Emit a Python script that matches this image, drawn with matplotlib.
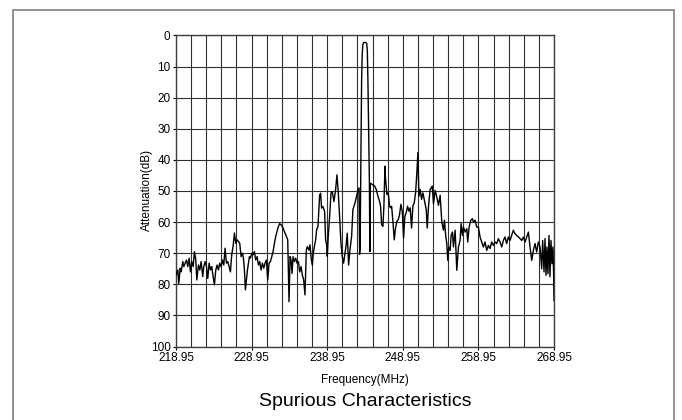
import matplotlib

matplotlib.use("Agg")
import matplotlib.pyplot as plt
from matplotlib.patches import Rectangle

plt.rcParams["font.family"] = ["Liberation Sans", "DejaVu Sans"]

# frequency (MHz) and attenuation (dB)
freq_mhz = [
    218.95, 219.19, 219.32, 219.50, 219.63, 219.85, 219.98, 220.16, 220.34, 220.51,
    220.69, 220.86, 221.04, 221.22, 221.39, 221.57, 221.70, 221.92, 222.10, 222.27,
    222.49, 222.62, 222.80, 222.98, 223.15, 223.33, 223.51, 223.68, 223.86, 224.03,
    224.21, 224.39, 224.56, 224.74, 224.91, 225.09, 225.27, 225.44, 225.62, 225.80,
    225.97, 226.15, 226.32, 226.50, 226.68, 226.85, 227.03, 227.20, 227.38, 227.56,
    227.74, 227.87, 228.00, 228.13, 228.27, 228.40, 228.53, 228.66, 228.80, 228.97,
    229.15, 229.32, 229.50, 229.68, 229.85, 230.03, 230.20, 230.38, 230.56, 230.73,
    230.91, 231.08, 231.26, 231.44, 231.61, 231.79, 231.97, 232.14, 232.32, 232.49,
    232.67, 232.85, 233.02, 233.20, 233.37, 233.55, 233.73, 233.90, 234.04, 234.17,
    234.30, 234.43, 234.61, 234.78, 234.96, 235.14, 235.31, 235.49, 235.66, 235.84,
    236.01, 236.19, 236.32, 236.54, 236.67, 236.85, 236.98, 237.11, 237.29, 237.42,
    237.55, 237.73, 237.95, 238.08, 238.21, 238.39, 238.61, 238.74, 238.87, 238.96,
    239.09, 239.27, 239.45, 239.62, 239.84, 240.06, 240.24, 240.42, 240.59, 240.77,
    240.94, 241.12, 241.25, 241.43, 241.60, 241.78, 241.96, 242.18, 242.35, 242.62,
    242.93, 243.15, 243.24, 243.30, 243.40, 243.50, 243.58, 243.66, 243.76, 243.98,
    244.18, 244.26, 244.34, 244.44, 244.53, 244.59, 244.66, 244.91, 245.22, 245.44,
    245.66, 245.88, 246.01, 246.15, 246.32, 246.45, 246.59, 246.67, 246.85, 247.03,
    247.20, 247.33, 247.47, 247.64, 247.82, 247.99, 248.17, 248.35, 248.52, 248.70,
    248.88, 249.05, 249.23, 249.40, 249.58, 249.76, 249.93, 250.11, 250.28, 250.46,
    250.64, 250.81, 250.95, 251.08, 251.25, 251.43, 251.61, 251.83, 252.05, 252.18,
    252.35, 252.57, 252.84, 253.01, 253.23, 253.45, 253.67, 253.89, 254.11, 254.33,
    254.46, 254.64, 254.77, 254.90, 255.03, 255.21, 255.34, 255.52, 255.65, 255.87,
    256.09, 256.31, 256.53, 256.66, 256.84, 256.97, 257.19, 257.41, 257.54, 257.72,
    257.94, 258.16, 258.29, 258.51, 258.73, 258.95, 259.17, 259.39, 259.61, 259.83,
    260.05, 260.27, 260.49, 260.71, 260.93, 261.15, 261.37, 261.59, 261.81, 262.03,
    262.25, 262.47, 262.69, 262.91, 263.13, 263.35, 263.57, 263.79, 264.02, 264.24,
    264.46, 264.68, 264.90, 265.12, 265.34, 265.56, 265.78, 266.00, 266.22, 266.44,
    266.66, 266.88, 267.10, 267.32, 267.45, 267.63, 267.76, 267.89, 268.02, 268.15,
    268.29, 268.42, 268.55, 268.68, 268.81, 268.90, 268.95,
]
atten_db = [
    77.0, 75.4, 79.7, 74.8, 76.0, 72.7, 74.3, 73.2, 72.2, 74.3,
    71.6, 76.0, 72.7, 74.3, 69.5, 72.2, 78.6, 73.8, 75.4, 72.7,
    77.5, 74.3, 72.7, 74.3, 78.1, 73.2, 75.4, 74.3, 77.5, 80.2,
    75.4, 73.8, 75.4, 73.2, 74.3, 72.2, 73.8, 68.4, 73.2, 72.7,
    74.3, 76.0, 70.5, 67.8, 63.5, 66.8, 65.7, 66.2, 66.8, 71.1,
    70.0, 71.6, 75.4, 81.8, 78.6, 75.4, 73.2, 71.1, 71.6, 70.0,
    70.5, 69.5, 72.2, 71.1, 73.8, 72.7, 75.4, 73.2, 74.8, 73.2,
    72.2, 78.6, 73.2, 72.7, 71.1, 69.5, 66.8, 64.6, 63.0, 61.4,
    60.5, 60.9, 61.4, 62.5, 63.5, 64.6, 65.7, 85.6, 71.1, 72.2,
    76.5, 71.1, 72.7, 71.6, 73.2, 72.7, 76.0, 74.3, 77.0, 78.6,
    83.4, 69.0, 67.9, 69.0, 67.3, 72.0, 73.8, 70.0, 67.3, 65.7,
    62.5, 61.4, 51.3, 50.7, 55.5, 55.0, 56.6, 65.7, 67.3, 71.0,
    64.6, 58.2, 50.7, 50.2, 53.4, 49.6, 44.8, 50.7, 58.2, 66.8,
    71.0, 73.2, 71.0, 67.9, 63.6, 73.8, 69.0, 64.6, 56.0, 53.9,
    50.7, 49.0, 70.4, 68.0, 40.0, 15.0, 6.0, 3.0, 2.3, 2.2,
    2.5, 5.0, 15.0, 32.0, 47.0, 69.5, 47.5, 47.9, 48.4, 49.5,
    51.7, 53.3, 54.9, 60.8, 61.4, 54.9, 42.0, 46.3, 51.1, 50.6,
    54.9, 55.4, 54.9, 59.7, 65.7, 61.9, 59.7, 59.2, 57.6, 54.3,
    56.5, 65.1, 58.1, 57.0, 54.9, 56.5, 55.4, 61.9, 54.9, 53.8,
    50.6, 44.1, 37.6, 51.7, 49.5, 52.7, 50.6, 53.3, 56.0, 61.9,
    54.9, 49.5, 48.4, 54.1, 49.8, 52.0, 54.6, 51.4, 60.0, 62.6,
    59.4, 64.8, 66.9, 72.3, 68.0, 69.1, 64.3, 63.2, 68.0, 62.6,
    75.5, 68.0, 65.9, 60.5, 64.3, 61.6, 63.2, 62.1, 66.4, 61.6,
    59.4, 58.9, 60.0, 59.4, 61.6, 61.6, 64.8, 66.4, 68.0, 66.4,
    69.1, 67.5, 68.5, 66.4, 67.5, 66.4, 66.9, 65.3, 66.4, 68.0,
    65.9, 64.8, 66.9, 64.8, 65.9, 64.3, 62.6, 63.7, 64.3, 64.8,
    65.3, 65.9, 64.8, 66.4, 64.8, 63.2, 68.0, 72.3, 69.1, 66.9,
    69.6, 66.4, 68.0, 75.0, 65.9, 76.0, 65.3, 77.1, 68.0, 76.6,
    64.3, 77.6, 65.9, 73.4, 68.0, 76.6, 85.2,
]

x_labels = [218.95, 228.95, 238.95, 248.95, 258.95, 268.95]
x_grid = [218.95 + 2 * i for i in range(26)]
y_ticks = [0, 10, 20, 30, 40, 50, 60, 70, 80, 90, 100]


def main() -> None:
    fig = plt.figure(figsize=(6.82, 4.20), dpi=100)
    fig.patch.set_facecolor("white")

    # grey outer frame, bottom edge runs off the canvas
    fig.patches.append(Rectangle((13 / 682, -0.02), 661 / 682, 1.0 - 10 / 420 + 0.02,
                                 transform=fig.transFigure, fill=False,
                                 edgecolor="#808080", linewidth=1.2))

    ax = fig.add_axes([176 / 682, 73.5 / 420, 378 / 682, 311 / 420])
    ax.plot(freq_mhz, atten_db, color="black", linewidth=1.0, zorder=3)

    ax.set_xlim(218.95, 268.95)
    ax.set_ylim(100, 0)
    ax.set_xticks(x_labels)
    ax.set_xticklabels([f"{v:.2f}" for v in x_labels])
    ax.set_xticks(x_grid, minor=True)
    ax.set_yticks(y_ticks)
    ax.grid(True, which="both", color="#303030", linewidth=0.8)
    ax.tick_params(axis="both", which="both", length=2, width=0.8, labelsize=8.5, pad=2)
    ax.tick_params(axis="x", which="minor", length=0)
    for side in ax.spines.values():
        side.set_color("#404040")
        side.set_linewidth(1.0)

    fig.text(147 / 682, 1 - 190 / 420, "Attenuation(dB)", rotation=90,
             ha="center", va="center", fontsize=8.5)
    fig.text(365 / 682, 1 - 380 / 420, "Frequency(MHz)",
             ha="center", va="center", fontsize=8.5)
    fig.text(365 / 682, 1 - 402 / 420, "Spurious Characteristics",
             ha="center", va="center", fontsize=14)

    fig.savefig("out.png", dpi=100)


if __name__ == "__main__":
    main()
